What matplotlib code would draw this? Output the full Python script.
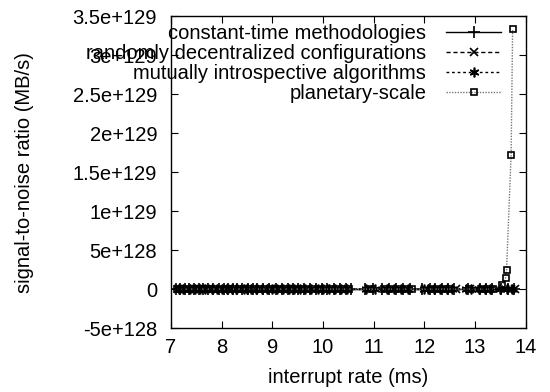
import matplotlib
matplotlib.use("Agg")
import matplotlib.pyplot as plt

plt.rcParams['font.family'] = ['Liberation Sans', 'DejaVu Sans']

# data (interrupt rate in ms, SNR in MB/s)
const_x = [7.10, 7.18, 7.27, 7.35, 7.46, 7.55, 7.64, 7.72, 7.83, 7.95, 8.04, 8.13,
           8.22, 8.31, 8.40, 8.52, 8.61, 8.70, 8.82, 8.93, 9.07, 9.18, 9.30, 9.40,
           9.51, 9.62, 9.74, 9.86, 9.97, 10.08, 10.21, 10.33, 10.45, 10.55, 10.82,
           10.98, 11.17, 11.30, 11.44, 11.58, 11.72, 11.96, 12.10, 12.21, 12.34,
           12.46, 12.58, 12.85, 13.10, 13.22, 13.33, 13.52, 13.65, 13.76]
const_y = [0.0] * len(const_x)

rand_x = [7.13, 7.22, 7.31, 7.41, 7.50, 7.60, 7.69, 7.78, 7.98, 8.08, 8.17, 8.27,
          8.36, 8.46, 8.56, 8.66, 8.76, 8.87, 8.98, 9.12, 9.24, 9.35, 9.45, 9.57,
          9.68, 9.80, 9.92, 10.03, 10.15, 10.27, 10.39, 10.50, 10.90, 11.22, 11.36,
          11.50, 11.65, 12.02, 12.15, 12.27, 12.40, 12.62, 12.90, 13.15, 13.28,
          13.58, 13.70, 13.78]
rand_y = [0.0] * len(rand_x)

mutual_x = [7.15, 7.24, 7.38, 7.48, 7.58, 7.67, 7.80, 7.90, 8.01, 8.11, 8.20, 8.29,
            8.43, 8.49, 8.58, 8.68, 8.79, 8.90, 9.00, 9.10, 9.21, 9.33, 9.43, 9.54,
            9.65, 9.77, 9.89, 10.00, 10.12, 10.24, 10.36, 10.48, 10.85, 11.02, 11.26,
            11.40, 11.54, 11.68, 11.99, 12.07, 12.18, 12.31, 12.44, 12.55, 12.82,
            12.92, 13.08, 13.19, 13.30, 13.50, 13.62, 13.72]
mutual_y = [0.0] * len(mutual_x)

planet_x = [7.12, 7.20, 7.29, 7.43, 7.52, 7.62, 7.75, 7.85, 7.96, 8.06, 8.15, 8.25,
            8.34, 8.44, 8.54, 8.63, 8.73, 8.85, 8.95, 9.05, 9.15, 9.27, 9.38, 9.48,
            9.59, 9.71, 9.83, 9.94, 10.05, 10.18, 10.30, 10.42, 10.52, 10.95, 11.20,
            11.33, 11.47, 11.61, 11.75, 12.12, 12.24, 12.37, 12.48, 12.88, 13.12,
            13.25, 13.35, 13.54, 13.60, 13.62, 13.71, 13.74]
planet_y = [0.0] * 47 + [5e127, 1.4e128, 2.4e128, 1.72e129, 3.33e129]

labels = ['constant-time methodologies', 'randomly decentralized configurations',
          'mutually introspective algorithms', 'planetary-scale']

yticks = [-5e128, 0, 5e128, 1e129, 1.5e129, 2e129, 2.5e129, 3e129, 3.5e129]
ytick_labels = ['-5e+128', '0', '5e+128', '1e+129', '1.5e+129', '2e+129',
                '2.5e+129', '3e+129', '3.5e+129']
xticks = [7, 8, 9, 10, 11, 12, 13, 14]

fs = 14.5

fig = plt.figure(figsize=(5.5, 3.92), dpi=100)
ax = fig.add_axes([0.311, 0.163, 0.645, 0.796])

ax.plot(const_x, const_y, color='black', lw=1, marker='+', ms=8, mew=1.2,
        label=labels[0])
ax.plot(rand_x, rand_y, color='black', lw=1, ls=(0, (3, 2)), marker='x', ms=6,
        mew=1.2, label=labels[1])
ax.plot(mutual_x, mutual_y, color='black', lw=1, ls=(0, (2, 2)), marker=(6, 2, 0),
        ms=7, mew=1.2, label=labels[2])
ax.plot(planet_x, planet_y, color='#777777', lw=1, ls=(0, (1, 1)), marker='s',
        ms=5, mew=1.2, mfc='none', mec='black', label=labels[3])

ax.set_xlim(7, 14)
ax.set_ylim(-5e128, 3.5e129)
ax.set_xticks(xticks)
ax.set_xticklabels([str(t) for t in xticks])
ax.set_yticks(yticks)
ax.set_yticklabels(ytick_labels)
ax.tick_params(direction='in', top=True, right=True, labelsize=fs, length=5)
ax.tick_params(axis='y', pad=10)
ax.tick_params(axis='x', pad=7)
for s in ax.spines.values():
    s.set_linewidth(1)

ax.set_xlabel('interrupt rate (ms)', fontsize=fs, labelpad=8)
ax.set_ylabel('signal-to-noise ratio (MB/s)', fontsize=fs, labelpad=28)

ax.legend(loc='upper right', bbox_to_anchor=(0.952, 1.0), frameon=False,
          markerfirst=False, handlelength=2.7, handletextpad=1.0,
          labelspacing=0.05, borderpad=0.2, borderaxespad=0.2, fontsize=fs)

fig.savefig('out.png', dpi=100)
